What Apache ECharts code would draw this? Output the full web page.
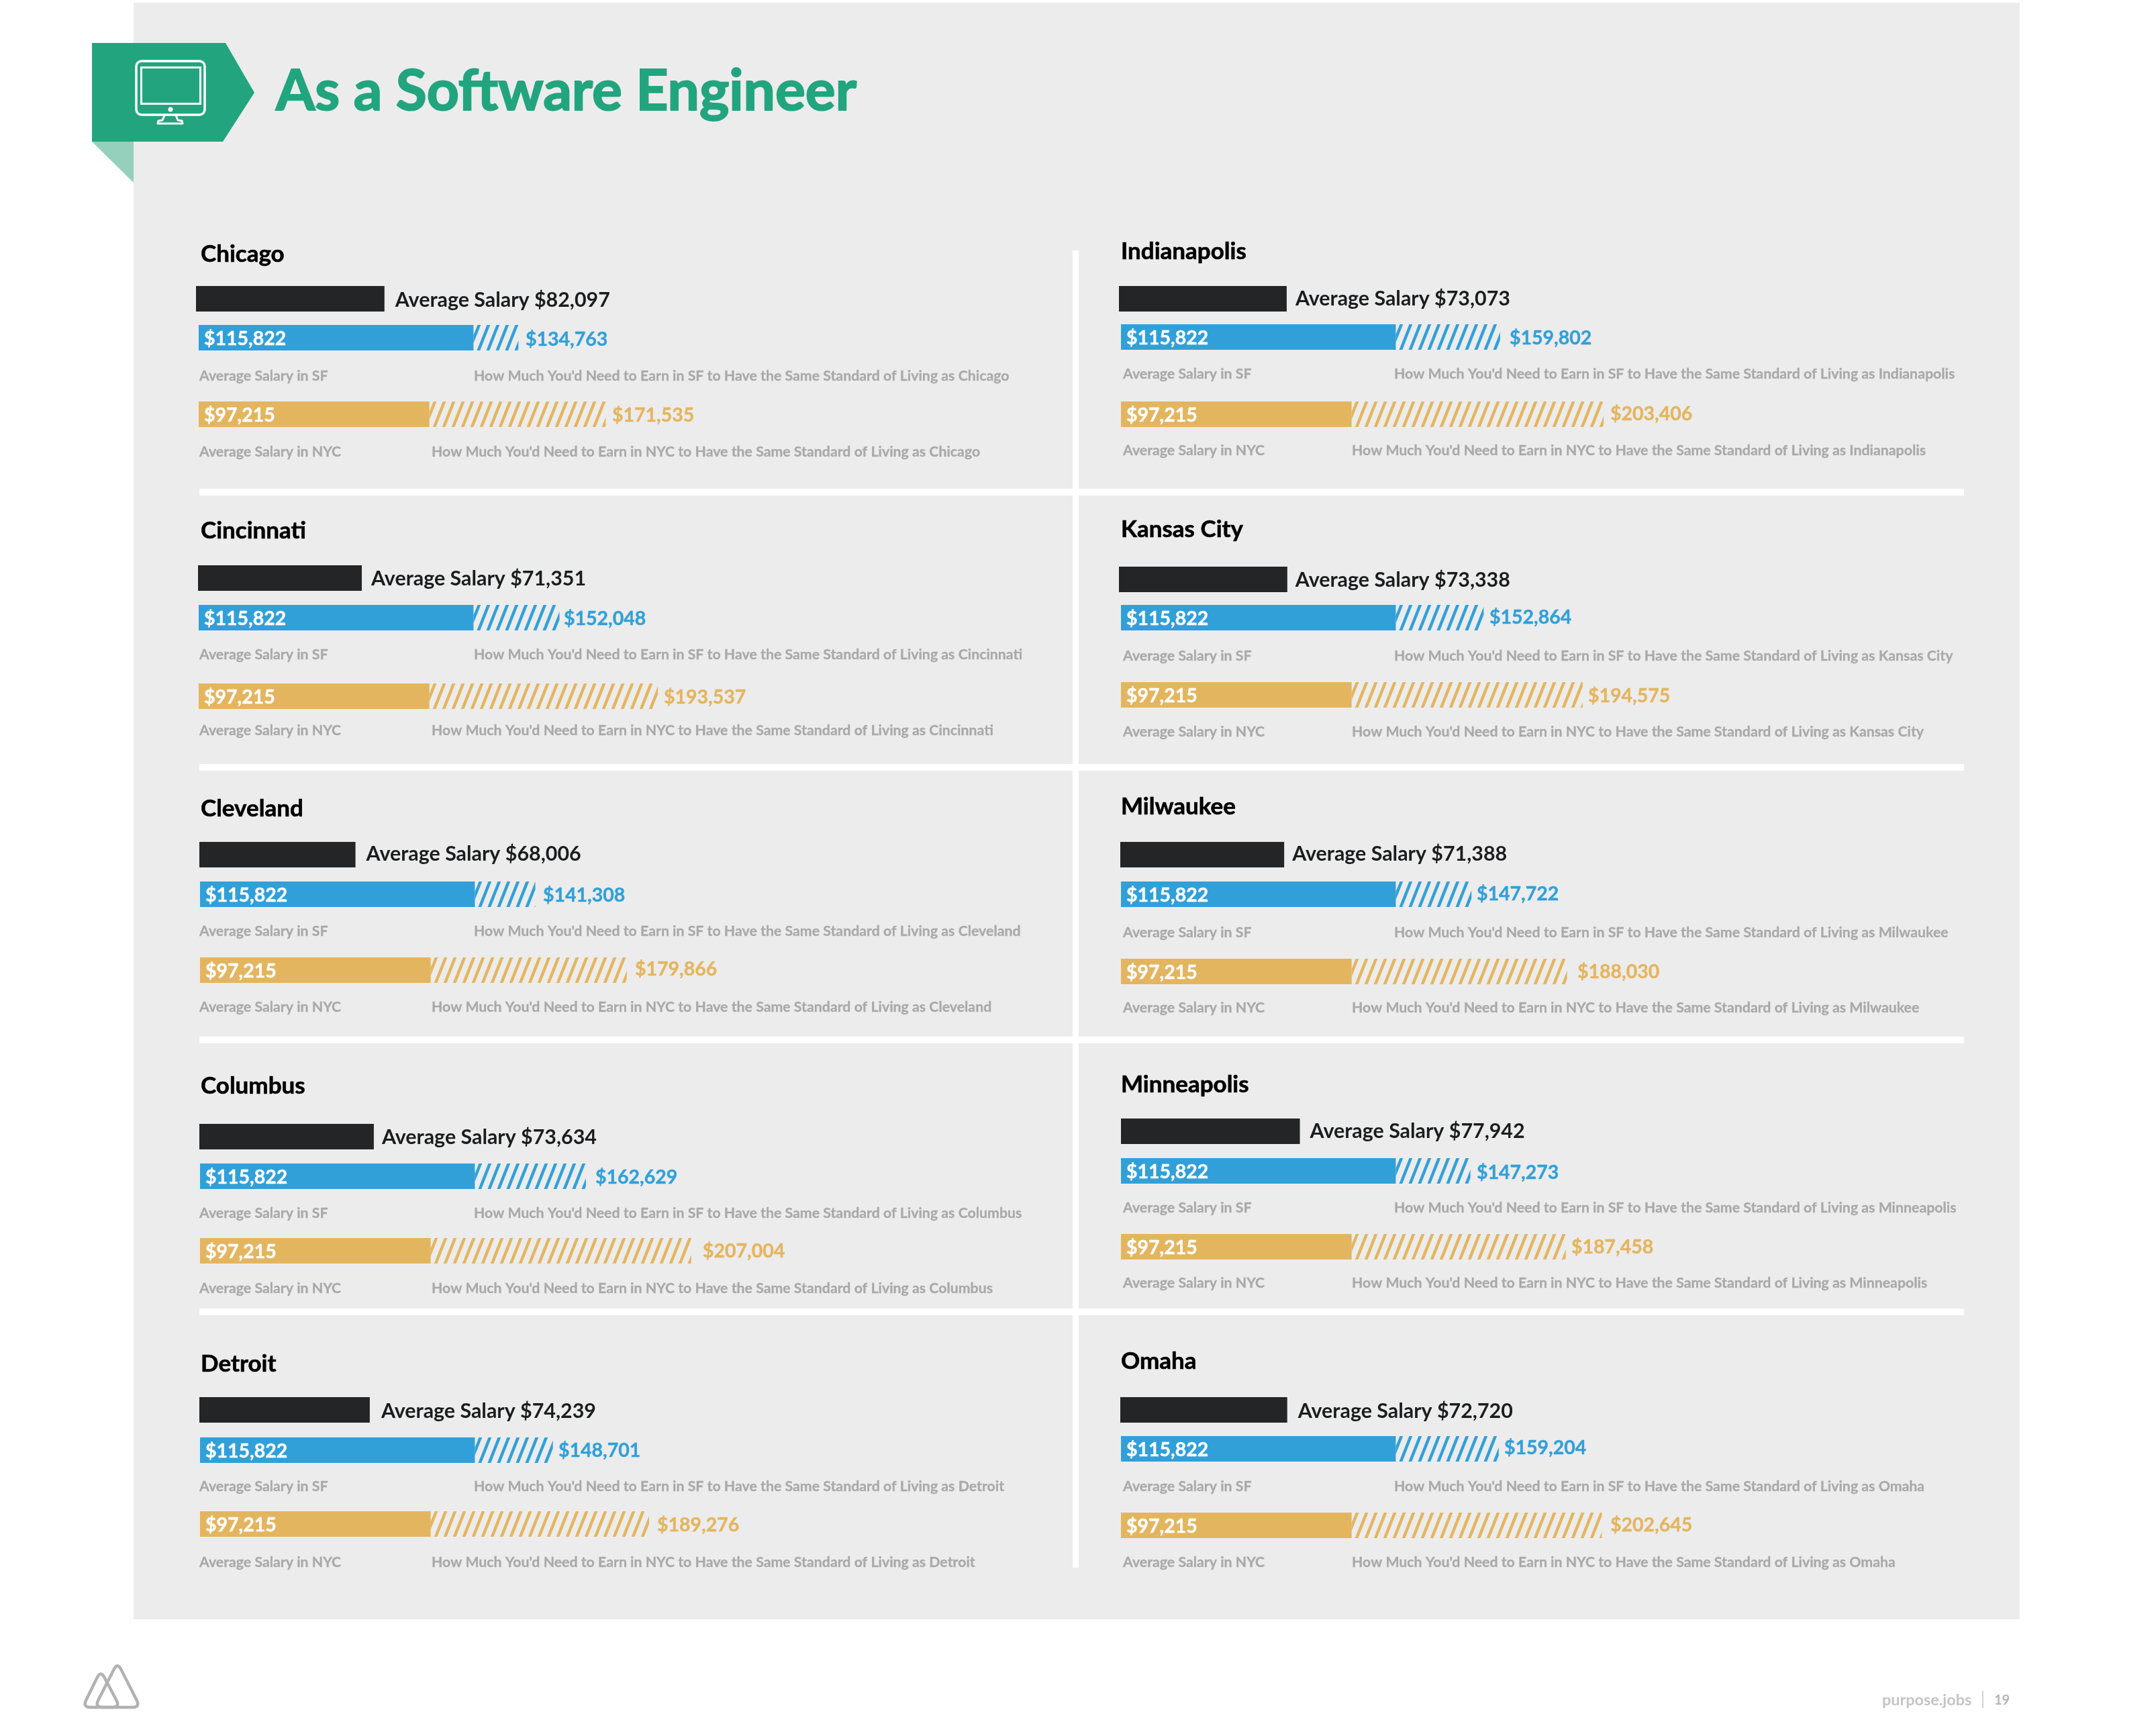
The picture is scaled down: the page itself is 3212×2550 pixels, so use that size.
<!doctype html>
<html lang="en-US">

<head>
    <meta charset="utf-8" />
    <title>As a Software Engineer</title>
    <script src="https://cdn.jsdelivr.net/npm/echarts@6/dist/echarts.min.js"></script>
    <style>
        html, body { margin: 0; padding: 0; background: #fff; }
        #chart { width: 3212px; height: 2550px; }
    </style>
</head>

<body>
    <div id="chart"></div>
</body>

<script type="text/javascript">
    // values
    const cities = ["Chicago", "Cincinnati", "Cleveland", "Columbus", "Detroit",
        "Indianapolis", "Kansas City", "Milwaukee", "Minneapolis", "Omaha"];
    const avgSalary = [82097, 71351, 68006, 73634, 74239, 73073, 73338, 71388, 77942, 72720];
    const sfNeeded = [134763, 152048, 141308, 162629, 148701, 159802, 152864, 147722, 147273, 159204];
    const nycNeeded = [171535, 193537, 179866, 207004, 189276, 203406, 194575, 188030, 187458, 202645];
    const sfAverage = 115822;
    const nycAverage = 97215;

    // page layout, pixels (one entry per city)
    const titleY = [379, 791, 1205, 1618, 2032, 375, 789, 1202, 1616, 2028];
    const blackX = [292, 295, 297, 297, 297, 1667, 1667, 1669, 1670, 1669];
    const blackY = [426, 842, 1254, 1674, 2081, 426, 844, 1254, 1666, 2081];
    const avgGap = [16, 14, 16, 12, 17, 13, 12, 12, 15, 16];
    const avgDy = [2, 1, -1, 1, 2, 0, 1, -1, 0, 2];
    const barX = [296, 296, 298, 298, 298, 1670, 1670, 1670, 1670, 1670];
    const blueY = [484, 901, 1313, 1733, 2141, 483, 901, 1313, 1725, 2139];
    const sfTextY = [560, 975, 1387, 1807, 2214, 557, 977, 1389, 1799, 2214];
    const goldY = [598, 1018, 1426, 1844, 2251, 598, 1016, 1428, 1838, 2253];
    const nycTextY = [673, 1088, 1500, 1919, 2327, 671, 1090, 1501, 1911, 2327];
    const blackPx = [3.42, 3.42, 3.42, 3.53, 3.42, 3.42, 3.42, 3.42, 3.42, 3.42];
    const sfLabelX = [783, 840, 809, 887, 832, 2249, 2219, 2200, 2200, 2241];
    const nycLabelX = [912, 989, 946, 1047, 979, 2399, 2366, 2350, 2341, 2399];
    const sfLabelY = [506, 922, 1334, 1754, 2161, 504, 920, 1332, 1747, 2157];
    const nycLabelY = [619, 1039, 1444, 1864, 2272, 617, 1037, 1448, 1858, 2272];
    const titleX = [299, 1670];
    const avgTextX = [297, 1673];
    const sfHowX = [706, 2077];
    const nycHowX = [643, 2014];
    const comparePx = 3.535;
    const barH = 38;
    const gridW = 1000;

    const GREEN = "#22a57f", BLUE = "#31a0d9", GOLD = "#e4b55f", DARK = "#232526", GREY = "#a9a9a9";
    const FONT = "Lato";

    function txt(text, x, y, font, fill, heavy) {
        return {
            type: "text", silent: true, z: 10,
            style: {
                text: text, x: x, y: y, font: font, fill: fill,
                stroke: heavy ? fill : null, lineWidth: heavy || 0,
                align: "left", verticalAlign: "middle",
                textAlign: "left", textVerticalAlign: "middle"
            }
        };
    }

    // keep the part of a polygon lying between xa and xb
    function clipX(points, xa, xb) {
        let clip = function (pts, inside, cut) {
            let out = [];
            for (let i = 0; i < pts.length; i++) {
                let p = pts[i], q = pts[(i + 1) % pts.length];
                if (inside(p)) out.push(p);
                if (inside(p) != inside(q)) {
                    let t = (cut - p[0]) / (q[0] - p[0]);
                    out.push([cut, p[1] + t * (q[1] - p[1])]);
                }
            }
            return out;
        };
        return clip(clip(points, p => p[0] >= xa, xa), p => p[0] <= xb, xb);
    }

    function hatchRenderer(color, labelX, labelY) {
        return function (params, api) {
            let xa = api.coord([api.value(0), 0])[0];
            let xb = api.coord([api.value(1), 0])[0];
            let yc = api.coord([api.value(0), 0])[1];
            let h = api.size([0, 1])[1];
            let top = yc - h / 2, bottom = yc + h / 2;
            let children = [];

            for (let x = xa + 5 - 2 * 14; x < xb; x += 14) {
                let pts = clipX([[x, bottom], [x + 15, top], [x + 19.8, top], [x + 4.8, bottom]], xa, xb);
                if (pts.length > 2) {
                    children.push({ type: "polygon", shape: { points: pts }, style: { fill: color } });
                }
            }
            let label = "$" + api.value(1).toLocaleString("en-US");
            children.push(txt(label, labelX, labelY, "bold 28.5px " + FONT, color, 0.4));
            return { type: "group", children: children };
        };
    }

    function roundedTriangle(pts, r) {
        let out = [];
        for (let i = 0; i < 3; i++) {
            let p = pts[i], a = pts[(i + 2) % 3], b = pts[(i + 1) % 3];
            let la = Math.hypot(a[0] - p[0], a[1] - p[1]), lb = Math.hypot(b[0] - p[0], b[1] - p[1]);
            let s = [p[0] + (a[0] - p[0]) * r / la, p[1] + (a[1] - p[1]) * r / la];
            let e = [p[0] + (b[0] - p[0]) * r / lb, p[1] + (b[1] - p[1]) * r / lb];
            for (let t = 0; t <= 1; t += 0.125) {
                out.push([(1 - t) * (1 - t) * s[0] + 2 * t * (1 - t) * p[0] + t * t * e[0],
                (1 - t) * (1 - t) * s[1] + 2 * t * (1 - t) * p[1] + t * t * e[1]]);
            }
        }
        return out;
    }

    let grids = [], xAxes = [], yAxes = [], series = [];
    let addRow = function (x, y, pxPerK) {
        let i = grids.length;
        grids.push({ left: x, top: y, width: gridW, height: barH });
        xAxes.push({ gridIndex: i, type: "value", min: 0, max: gridW / pxPerK * 1000, show: false });
        yAxes.push({ gridIndex: i, type: "category", data: [""], show: false });
        return i;
    };
    let addCompare = function (x, y, base, needed, color, labelX, labelY) {
        let i = addRow(x, y, comparePx);
        series.push({
            type: "bar", xAxisIndex: i, yAxisIndex: i, barWidth: "100%", silent: true,
            data: [base], itemStyle: { color: color },
            label: {
                show: true, position: "insideLeft", distance: 8, color: "#fff", offset: [0, 1.5],
                fontSize: 28.5, fontWeight: "bold", fontFamily: FONT,
                textBorderColor: "#fff", textBorderWidth: 0.4,
                formatter: "$" + base.toLocaleString("en-US")
            }
        });
        series.push({
            type: "custom", xAxisIndex: i, yAxisIndex: i, silent: true,
            renderItem: hatchRenderer(color, labelX, labelY), encode: { x: [0, 1], y: 2 },
            data: [[base, needed, 0]]
        });
    };

    let graphics = [
        { type: "rect", shape: { x: 199, y: 4, width: 2810, height: 2408 }, style: { fill: "#ececec" }, z: 0 },
        // separators
        { type: "rect", shape: { x: 297, y: 728, width: 2629, height: 10 }, style: { fill: "#fff" }, z: 1 },
        { type: "rect", shape: { x: 297, y: 1138, width: 2629, height: 10 }, style: { fill: "#fff" }, z: 1 },
        { type: "rect", shape: { x: 297, y: 1544, width: 2629, height: 10 }, style: { fill: "#fff" }, z: 1 },
        { type: "rect", shape: { x: 297, y: 1949, width: 2629, height: 10 }, style: { fill: "#fff" }, z: 1 },
        { type: "rect", shape: { x: 1598, y: 373, width: 9, height: 1962 }, style: { fill: "#fff" }, z: 1 },
        // header flag
        { type: "polygon", shape: { points: [[137, 211], [199, 211], [199, 272]] }, style: { fill: "#94d0bb" }, z: 2 },
        { type: "polygon", shape: { points: [[137, 64], [336, 64], [379, 138], [332, 211], [137, 211]] }, style: { fill: GREEN }, z: 2 },
        // monitor icon
        { type: "rect", shape: { x: 203, y: 91, width: 102, height: 80, r: 8 }, style: { fill: "none", stroke: "#fff", lineWidth: 3.5 }, z: 3 },
        { type: "rect", shape: { x: 210.5, y: 100.5, width: 88, height: 54 }, style: { fill: "none", stroke: "#fff", lineWidth: 3 }, z: 3 },
        { type: "circle", shape: { cx: 254, cy: 163, r: 3.5 }, style: { fill: "#fff" }, z: 3 },
        { type: "polyline", shape: { points: [[245, 172], [242, 179], [236, 180], [235, 184], [272, 184], [271, 180], [265, 179], [262, 172]] }, style: { fill: "none", stroke: "#fff", lineWidth: 3, lineJoin: "round" }, z: 3 },
        txt("As a Software Engineer", 411, 137, "bold 84px " + FONT, GREEN, 2),
        // footer
        { type: "polygon", shape: { points: roundedTriangle([[150, 2488], [123, 2543], [179, 2543]], 12) }, style: { fill: "none", stroke: "#b2b2b2", lineWidth: 4.5 }, z: 2 },
        { type: "polygon", shape: { points: roundedTriangle([[175, 2476], [141, 2543], [209, 2543]], 12) }, style: { fill: "none", stroke: "#b2b2b2", lineWidth: 4.5 }, z: 2 },
        txt("purpose.jobs", 2804, 2532, "bold 23.4px " + FONT, "#c4c4c4"),
        { type: "line", shape: { x1: 2954, y1: 2518, x2: 2954, y2: 2544 }, style: { stroke: "#c4c4c4", lineWidth: 1.5 }, z: 2 },
        txt("19", 2971, 2533, "bold 20px " + FONT, "#b4b4b4")
    ];

    for (let c = 0; c < cities.length; c++) {
        let col = c < 5 ? 0 : 1;
        let city = cities[c];

        let k = addRow(blackX[c], blackY[c], blackPx[c]);
        series.push({
            type: "bar", xAxisIndex: k, yAxisIndex: k, barWidth: "100%", silent: true,
            data: [avgSalary[c]], itemStyle: { color: DARK },
            label: {
                show: true, position: "right", distance: avgGap[c], color: "#1b1c1d", offset: [0, avgDy[c]],
                fontSize: 30.4, fontWeight: "bold", fontFamily: FONT,
                formatter: "Average Salary $" + avgSalary[c].toLocaleString("en-US")
            }
        });
        addCompare(barX[c], blueY[c], sfAverage, sfNeeded[c], BLUE, sfLabelX[c], sfLabelY[c]);
        addCompare(barX[c], goldY[c], nycAverage, nycNeeded[c], GOLD, nycLabelX[c], nycLabelY[c]);

        graphics.push(
            txt(city, titleX[col], titleY[c], "bold 35px " + FONT, "#000", 0.6),
            txt("Average Salary in SF", avgTextX[col], sfTextY[c], "bold 21.3px " + FONT, GREY, 0.3),
            txt("How Much You'd Need to Earn in SF to Have the Same Standard of Living as " + city, sfHowX[col], sfTextY[c], "bold 21.3px " + FONT, GREY, 0.3),
            txt("Average Salary in NYC", avgTextX[col], nycTextY[c], "bold 21.3px " + FONT, GREY, 0.3),
            txt("How Much You'd Need to Earn in NYC to Have the Same Standard of Living as " + city, nycHowX[col], nycTextY[c], "bold 21.3px " + FONT, GREY, 0.3)
        );
    }

    let myChart = echarts.init(document.getElementById("chart"), null, { renderer: "canvas" });

    myChart.setOption({
        animation: false,
        backgroundColor: "#fff",
        grid: grids,
        xAxis: xAxes,
        yAxis: yAxes,
        graphic: { elements: graphics },
        series: series
    });
</script>

</html>
